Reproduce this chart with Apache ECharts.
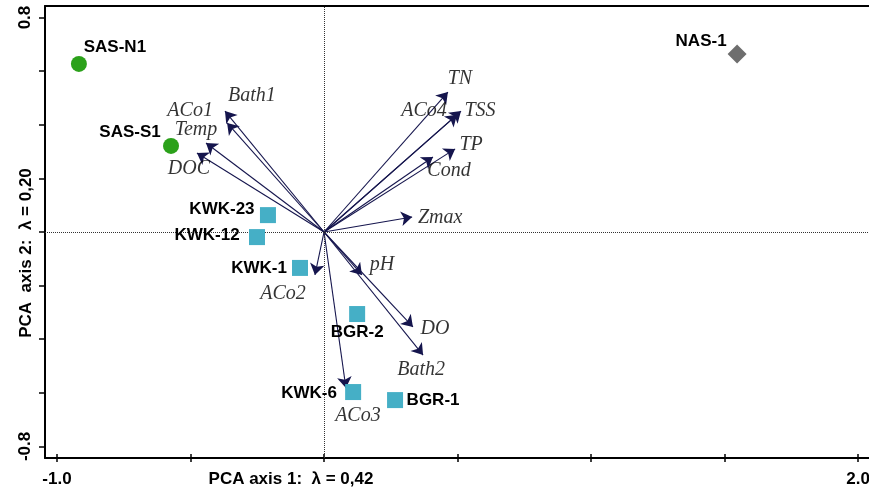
<!DOCTYPE html>
<html><head><meta charset="utf-8">
<script src="https://cdn.jsdelivr.net/npm/echarts@6/dist/echarts.min.js"></script>
<style>html,body{margin:0;padding:0;background:#fff}#c{width:869px;height:489px}</style>
</head><body><div id="c"></div>
<script>
// ---- data ----
const siteNames = ['SAS-N1','SAS-S1','NAS-1','KWK-23','KWK-12','KWK-1','BGR-2','KWK-6','BGR-1'];
const siteGroups = ['SAS','SAS','NAS','KWK','KWK','KWK','BGR','KWK','BGR'];
const siteX = [-0.918,-0.573,1.547,-0.210,-0.251,-0.090,0.124,0.109,0.266];
const siteY = [0.627,0.321,0.664,0.063,-0.019,-0.134,-0.306,-0.597,-0.627];
const varNames = ['Bath1','ACo1','Temp','DOC','TN','ACo4','TSS','TP','Cond','Zmax','pH','DO','Bath2','ACo3','ACo2'];
const varX = [-0.371,-0.363,-0.442,-0.476,0.464,0.498,0.513,0.491,0.408,0.330,0.142,0.333,0.371,0.082,-0.034];
const varY = [0.451,0.407,0.332,0.295,0.522,0.437,0.451,0.310,0.280,0.056,-0.160,-0.354,-0.459,-0.582,-0.160];
const xTicks = [-1.0,-0.5,0,0.5,1.0,1.5,2.0];
const yTicks = [0.8,0.6,0.4,0.2,0,-0.2,-0.4,-0.6,-0.8];
const xTickLabels = [-1.0, 2.0];
const yTickLabels = [0.8, -0.8];
const xAxisName = 'PCA axis 1:  \u03bb = 0,42';
const yAxisName = 'PCA  axis 2:  \u03bb = 0,20';

// ---- styling (label placement in pixels) ----
const siteLabelOffset = {'SAS-N1':[36,-16.5],'SAS-S1':[-41,-14],'NAS-1':[-36,-13],'KWK-23':[-46,-6],'KWK-12':[-50,-2],'KWK-1':[-41,0],'BGR-2':[0,18],'KWK-6':[-44,1],'BGR-1':[38,0]};
const varLabelOffset = {Bath1:[27,-15],ACo1:[-37,-12],Temp:[-10,-13],DOC:[-8,16],TN:[12,-13],ACo4:[-33,-4],TSS:[19,0],TP:[16,-4],Cond:[16,14],Zmax:[28,1],pH:[20,-10],DO:[22,2],Bath2:[-2,15],ACo3:[12,28],ACo2:[-32,19]};
const groupStyle = {
  SAS:{symbol:'circle',size:16,color:'#2ba11a'},
  NAS:{symbol:'diamond',size:19,color:'#6e6e6e'},
  KWK:{symbol:'rect',size:16,color:'#45afc6'},
  BGR:{symbol:'rect',size:16,color:'#45afc6'}
};
const boldFont = {fontFamily:'Liberation Sans, Arial, sans-serif',fontWeight:'bold',fontSize:17,color:'#000'};

const chart = echarts.init(document.getElementById('c'));
const fmt = v => Number(v).toFixed(1);

const groupSeries = ['SAS','NAS','KWK'].map(g => {
  const st = groupStyle[g];
  const data = [];
  siteNames.forEach((n,i) => {
    const gg = siteGroups[i];
    const match = (g === 'KWK') ? (gg === 'KWK' || gg === 'BGR') : gg === g;
    if (match) data.push({name:n, value:[siteX[i],siteY[i]], label:{offset:siteLabelOffset[n]}});
  });
  return {
    type:'scatter', name:g, symbol:st.symbol, symbolSize:st.size, z:5,
    itemStyle:{color:st.color, opacity:1},
    label:Object.assign({show:true, position:'inside', formatter:'{b}'}, boldFont),
    data, silent:true
  };
});

chart.setOption({
  animation:false,
  backgroundColor:'#fff',
  grid:{left:45, right:0, top:6, bottom:31, outerBoundsMode:'none'},
  xAxis:[
    {type:'value', min:-1.045, max:2.041, position:'bottom',
     axisLine:{onZero:false, lineStyle:{color:'#000', width:2}},
     axisTick:{customValues:xTicks, length:4, lineStyle:{color:'#000', width:1.5}},
     axisLabel:Object.assign({customValues:xTickLabels, formatter:fmt, margin:13}, boldFont),
     splitLine:{show:false},
     name:xAxisName, nameLocation:'middle', nameGap:13, nameMoveOverlap:false,
     nameTextStyle:Object.assign({padding:[0,332,0,0]}, boldFont)},
    {type:'value', min:-1.045, max:2.041, position:'bottom',
     axisLine:{show:false, onZero:false},
     axisTick:{inside:true, customValues:xTicks, length:4, lineStyle:{color:'#000', width:1.5}},
     axisLabel:{show:false}, splitLine:{show:false}},
    {type:'value', min:-1.045, max:2.041, position:'top',
     axisLine:{onZero:false, lineStyle:{color:'#000', width:2}},
     axisTick:{show:false}, axisLabel:{show:false}, splitLine:{show:false}}
  ],
  yAxis:[
    {type:'value', min:-0.843, max:0.843, position:'left',
     axisLine:{onZero:false, lineStyle:{color:'#000', width:2}},
     axisTick:{customValues:yTicks, length:6, lineStyle:{color:'#000', width:1.5}},
     axisLabel:Object.assign({customValues:yTickLabels, formatter:fmt, rotate:90, margin:11}, boldFont),
     splitLine:{show:false},
     name:yAxisName, nameLocation:'middle', nameGap:10, nameRotate:90, nameMoveOverlap:false,
     nameTextStyle:Object.assign({padding:[0,42,0,0]}, boldFont)}
  ],
  series:[
    {type:'lines', coordinateSystem:'cartesian2d', xAxisIndex:0, yAxisIndex:0, z:2,
     symbol:['none','arrow'], symbolSize:11,
     lineStyle:{color:'#15154d', width:1.1, opacity:1, curveness:0},
     data:varNames.map((n,i) => ({name:n, coords:[[0,0],[varX[i],varY[i]]]})),
     markLine:{silent:true, symbol:'none', label:{show:false},
       lineStyle:{type:'dotted', color:'#333', width:1},
       data:[{xAxis:0},{yAxis:0}]},
     silent:true},
    {type:'scatter', name:'vars', symbolSize:0, z:3, silent:true,
     label:{show:true, position:'inside', formatter:'{b}', fontFamily:'Liberation Serif, Times New Roman, serif', fontStyle:'italic', fontSize:20, color:'#000'},
     data:varNames.map((n,i) => ({name:n, value:[varX[i],varY[i]], label:{offset:varLabelOffset[n]}}))},
    ...groupSeries
  ]
});
</script></body></html>
